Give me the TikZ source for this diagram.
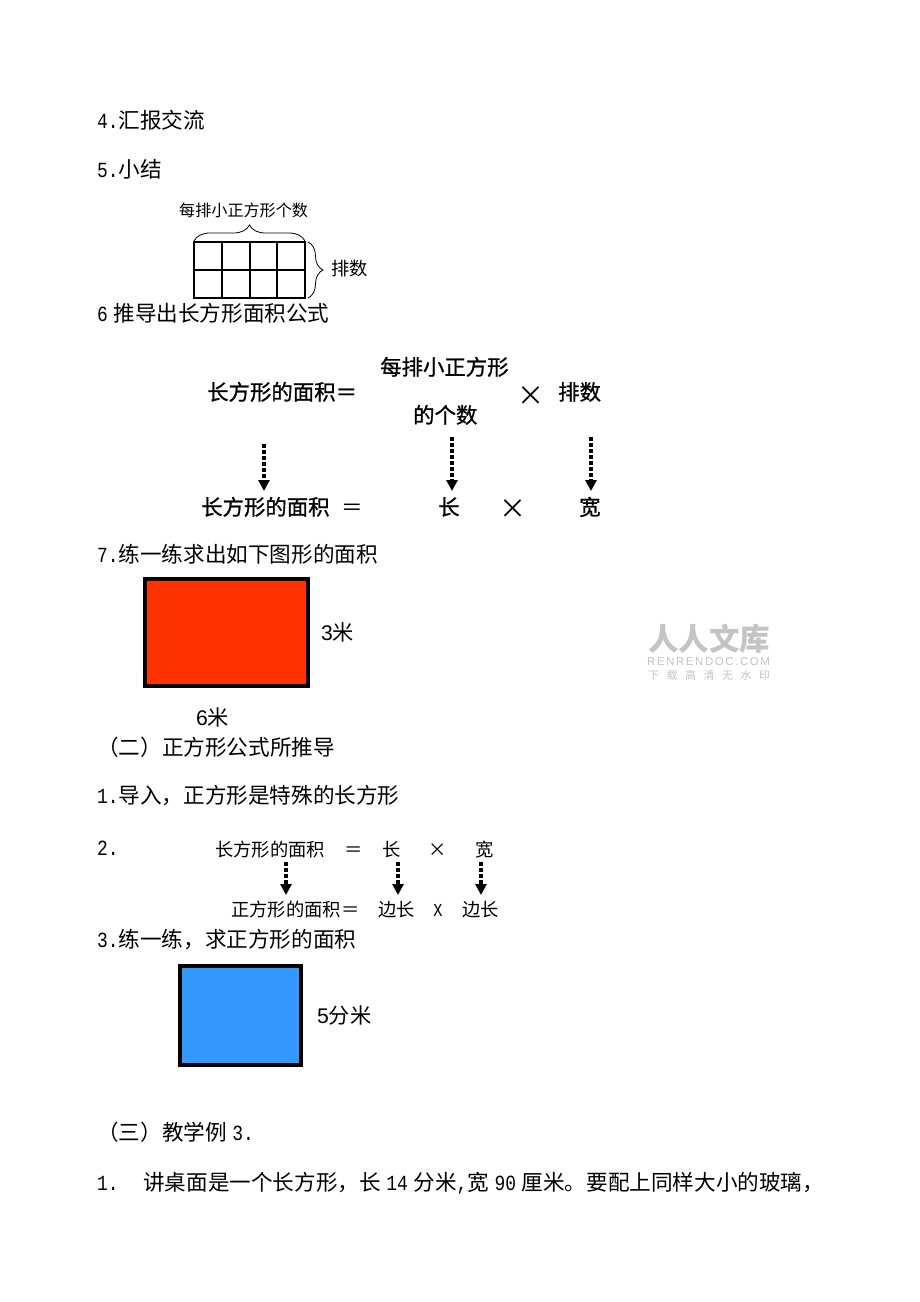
\documentclass[tikz,border=0pt]{standalone}
\usepackage{fontspec}
\setmainfont{Noto Sans CJK SC}
\newfontfamily\latfont[FakeStretch=0.83]{Liberation Mono}
\newfontfamily\arialfont{Liberation Sans}
\newfontfamily\heavyfont[FakeBold=0.9]{Noto Sans CJK SC}
\newfontfamily\wmlatin[LetterSpace=13.5]{Liberation Sans}
\newfontfamily\wmcjk[LetterSpace=68]{Noto Sans CJK SC}
\newcommand{\lat}[1]{{\latfont #1}}
\newcommand{\hs}{\hspace{5.6pt}}
\usetikzlibrary{arrows.meta}
\usetikzlibrary{decorations.pathreplacing}
\definecolor{rectred}{HTML}{FF3300}
\definecolor{rectblue}{HTML}{3399FF}
\definecolor{markgray}{HTML}{C4C4C4}
\begin{document}
\begin{tikzpicture}[x=1pt,y=-1pt,
	bodytext/.style={anchor=base west,inner sep=0pt,font=\fontsize{21.6}{22}\selectfont},
	unittext/.style={anchor=base west,inner sep=0pt,font=\fontsize{21.2}{22}\selectfont},
	smalltext/.style={anchor=base west,inner sep=0pt,font=\fontsize{18.3}{19}\selectfont},
	tinytext/.style={anchor=base west,inner sep=0pt,font=\fontsize{16.1}{17}\selectfont},
	boldtext/.style={anchor=base west,inner sep=0pt,font=\fontsize{21.4}{22}\selectfont\heavyfont},
	timestext/.style={anchor=base,inner sep=0pt,font=\fontsize{27}{27}\selectfont},
	dotarrow/.style={-{Triangle[length=11pt,width=11pt]},line width=3.5pt,dash pattern=on 3.5pt off 2.5pt},
	bracemark/.style={decorate,decoration={brace,amplitude=#1},line width=0.8pt},
	figrect/.style={draw=black,line width=4.5pt}]
	\useasboundingbox (0,0) rectangle (920,1302);
	\fill[white] (0,0) rectangle (920,1302);
	% text lines
	\node[bodytext] (item4) at (97,128) {\lat{4.}汇报交流};
	\node[bodytext] (item5) at (97,177) {\lat{5.}小结};
	\node[bodytext] (item6) at (97,321) {\lat{6}\hs 推导出长方形面积公式};
	\node[bodytext] (item7) at (97,562) {\lat{7.}练一练求出如下图形的面积};
	\node[bodytext] (sectwo) at (97,755) {（二）正方形公式所推导};
	\node[bodytext] (lead1) at (97,803) {\lat{1.}导入，正方形是特殊的长方形};
	\node[bodytext] (lead2) at (97,855) {\lat{2.}};
	\node[bodytext] (lead3) at (97,947) {\lat{3.}练一练，求正方形的面积};
	\node[bodytext] (secthree) at (97,1140) {（三）教学例\hs\lat{3.}};
	\node[bodytext] (last1) at (97,1190) {\lat{1.}};
	\node[bodytext] (lastline) at (143,1190) {讲桌面是一个长方形，长\hs\lat{14}\hs 分米\lat{,}宽\hs\lat{90}\hs 厘米。要配上同样大小的玻璃，};
	% small grid
	\node[tinytext] (rowcount) at (179,216) {每排小正方形个数};
	\node[smalltext] (rows) at (331,275) {排数};
	\draw[line width=1.2pt] (194,242) rectangle (305,298);
	\foreach \gx in {222,250,277}
		\draw[line width=1.2pt] (\gx,242) -- (\gx,298);
	\draw[line width=1.2pt] (194,270) -- (305,270);
	\draw[bracemark=16pt] (194,241) -- (305,241);
	\draw[bracemark=15pt] (308,242) -- (308,298);
	% first formula
	\node[boldtext] (areaa) at (207,400) {长方形的面积＝};
	\node[boldtext] (eachrow) at (380,375) {每排小正方形};
	\node[boldtext] (eachcount) at (413,423) {的个数};
	\node[timestext] (timesa) at (531,405) {×};
	\node[boldtext] (rowsb) at (558,400) {排数};
	\node[boldtext] (areab) at (201,515) {长方形的面积};
	\node[bodytext] (eqb) at (341,515) {＝};
	\node[boldtext] (lenb) at (438,515) {长};
	\node[timestext] (timesb) at (513,518) {×};
	\node[boldtext] (widb) at (579,515) {宽};
	\coordinate (fromA) at (264,444);
	\coordinate (toA) at (264,491);
	\coordinate (fromB) at (452,437);
	\coordinate (toB) at (452,491);
	\coordinate (fromC) at (591,437);
	\coordinate (toC) at (591,491);
	\draw[dotarrow] (fromA) -- (toA);
	\draw[dotarrow] (fromB) -- (toB);
	\draw[dotarrow] (fromC) -- (toC);
	% red rectangle
	\node[figrect,fill=rectred,minimum width=163pt,minimum height=107pt,inner sep=0pt] (redrect) at (226.5,632.5) {};
	\node[unittext] (threem) at (321,640) {{\arialfont 3}米};
	\node[unittext] (sixm) at (196,725) {{\arialfont 6}米};
	% watermark
	\node[anchor=base west,inner sep=0pt,text=markgray,font=\fontsize{30.5}{31}\selectfont\bfseries] (marktitle) at (648,650) {人人文库};
	\node[anchor=base west,inner sep=0pt,text=markgray,font=\fontsize{11.5}{12}\selectfont\wmlatin] (markurl) at (647,665) {RENRENDOC.COM};
	\node[anchor=base west,inner sep=0pt,text=markgray,font=\fontsize{11}{12}\selectfont\wmcjk] (marknote) at (648,679) {下载高清无水印};
	% second formula
	\node[smalltext] (areac) at (215,856) {长方形的面积};
	\node[smalltext] (eqc) at (344,856) {＝};
	\node[smalltext] (lenc) at (382,856) {长};
	\node[smalltext] (timesc) at (428,856) {×};
	\node[smalltext] (widc) at (475,856) {宽};
	\node[smalltext] (aread) at (231,916) {正方形的面积＝};
	\node[smalltext] (sidea) at (378,916) {边长};
	\node[anchor=base,inner sep=0pt] (timesd) at (438,916) {\fontsize{18.3}{19}\latfont X};
	\node[smalltext] (sideb) at (462,916) {边长};
	\coordinate (fromD) at (286,862);
	\coordinate (toD) at (286,895);
	\coordinate (fromE) at (398,862);
	\coordinate (toE) at (398,895);
	\coordinate (fromF) at (481,862);
	\coordinate (toF) at (481,895);
	\draw[dotarrow] (fromD) -- (toD);
	\draw[dotarrow] (fromE) -- (toE);
	\draw[dotarrow] (fromF) -- (toF);
	% blue square
	\node[figrect,fill=rectblue,minimum width=121pt,minimum height=99pt,inner sep=0pt] (bluerect) at (240.5,1015.5) {};
	\node[unittext] (fivedm) at (317,1023) {{\arialfont 5}分米};
\end{tikzpicture}
\end{document}
